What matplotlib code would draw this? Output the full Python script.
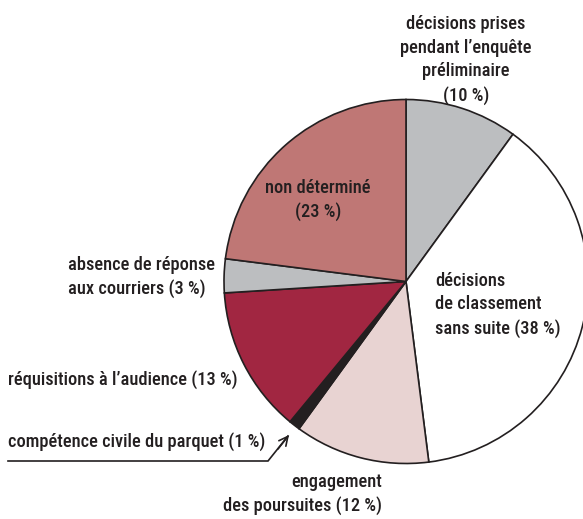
import matplotlib.pyplot as plt
from matplotlib import font_manager

# données
parts = [10, 38, 12, 1, 13, 3, 23]
couleurs = ['#BCBEC0', '#FFFFFF', '#E8D3D2', '#231F20', '#A12641', '#BCBEC0', '#BF7775']
labels = [
    "décisions prises\npendant l’enquête\npréliminaire\n(10 %)",
    "décisions\nde classement\nsans suite (38 %)",
    "engagement\ndes poursuites (12 %)",
    "compétence civile du parquet (1 %)",
    "réquisitions à l’audience (13 %)",
    "absence de réponse\naux courriers (3 %)",
    "non déterminé\n(23 %)",
]

noms = sorted({f.name for f in font_manager.fontManager.ttflist})
fam = 'DejaVu Sans'
for n in ['Roboto Condensed', 'Open Sans Condensed', 'Liberation Sans Narrow']:
    if n in noms:
        fam = n
        break
plt.rcParams['font.family'] = [fam, 'DejaVu Sans']
plt.rcParams['font.stretch'] = 'condensed'

W, H = 583, 519
fig = plt.figure(figsize=(W / 100, H / 100), dpi=100)
ax = fig.add_axes([0, 0, 1, 1])

cx, cy, r = 406, H - 281.5, 182
ax.pie(parts, colors=couleurs, startangle=90, counterclock=False,
       center=(cx, cy), radius=r, frame=True,
       wedgeprops=dict(edgecolor='#231F20', linewidth=1.2))
ax.set_xlim(0, W)
ax.set_ylim(0, H)
ax.set_aspect('equal')
ax.axis('off')

txt = dict(color='#231F20', fontsize=13.2, linespacing=1.4,
           fontstretch='condensed', fontweight='medium')
ax.text(466, H - 60, labels[0], ha='center', va='center', **txt)
ax.text(435, H - 305, labels[1], ha='left', va='center', **txt)
ax.text(382, H - 494, labels[2], ha='right', va='center', multialignment='right', **txt)
ax.text(8, H - 442, labels[3], ha='left', va='center', **txt)
ax.text(8, H - 380, labels[4], ha='left', va='center', **txt)
ax.text(68, H - 277, labels[5], ha='left', va='center', **txt)
ax.text(318, H - 200, labels[6], ha='center', va='center', **txt)

# flèche vers la part de 1 %
ax.plot([8, 268, 288], [H - 461, H - 461, H - 436], color='#231F20', lw=1.2,
        solid_joinstyle='miter')
ax.annotate('', xy=(289, H - 435), xytext=(278, H - 449),
            arrowprops=dict(arrowstyle='->', color='#231F20', lw=1.2,
                            mutation_scale=16, shrinkA=0, shrinkB=0))

fig.savefig('out.png', dpi=100)
